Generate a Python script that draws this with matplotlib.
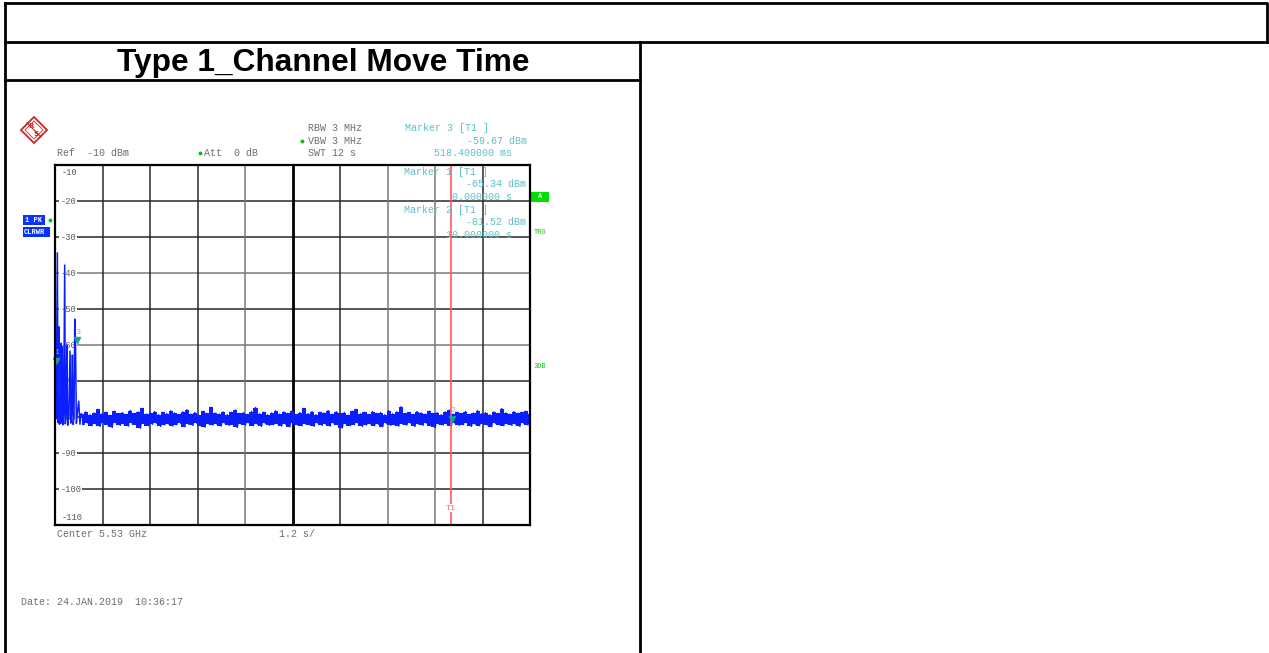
import numpy as np
import matplotlib
matplotlib.use("Agg")
from matplotlib import pyplot as plt
from matplotlib.patches import Rectangle, Polygon

# ---- data ----
title = "Type 1_Channel Move Time"
sweep_time = 12.0                       # s, 1.2 s/div
y_levels = [-10, -20, -30, -40, -50, -60, -70, -80, -90, -100, -110]

# start of the trace: the hopping bursts (time in s, level in dBm)
burst_t = [0.0, 0.03, 0.06, 0.075, 0.095, 0.11, 0.125, 0.14, 0.155, 0.17,
           0.185, 0.20, 0.22, 0.245, 0.26, 0.28, 0.30, 0.32, 0.35, 0.38,
           0.40, 0.42, 0.44, 0.46, 0.48, 0.50, 0.518, 0.54, 0.56, 0.60,
           0.63, 0.66]
burst_db = [-65.3, -80.5, -34.4, -81.5, -54.9, -82.0, -79.2, -81.8, -59.5, -81.6,
            -60.5, -82.2, -79.4, -37.8, -81.9, -79.1, -60.0, -82.3, -79.3, -61.7,
            -81.7, -79.0, -62.8, -82.1, -79.4, -52.8, -59.7, -81.8, -79.2, -75.6,
            -82.0, -79.1]

# noise floor after the bursts: upper / lower edge of the peak trace
noise_hi = [-79.2, -78.6, -79.4, -78.9, -77.9, -79.1, -78.7, -79.5, -78.4, -79.0,
            -78.8, -79.3, -78.2, -79.0, -78.6, -77.6, -79.2, -78.9, -78.5, -79.4,
            -78.7, -79.1, -78.3, -78.9, -79.3, -78.6, -78.0, -79.2, -78.8, -79.5,
            -78.4, -79.0, -77.3, -78.9, -79.2, -78.6, -79.4, -78.7, -78.1, -79.0,
            -78.8, -79.3, -78.5, -77.4, -79.1, -78.7, -79.4, -78.9, -78.3, -79.2,
            -78.6, -79.0, -78.4, -79.3, -78.8, -77.6, -79.1, -78.5, -79.4, -78.7,
            -78.9, -78.2, -79.2, -78.6, -79.0, -78.8, -79.5, -78.4, -77.9, -79.1,
            -78.7, -79.3, -78.5, -79.0, -78.8, -79.4, -78.3, -79.1, -78.6, -77.2,
            -79.0, -78.7, -79.3, -78.5, -78.9, -79.2, -78.4, -79.0, -78.8, -79.4,
            -78.6, -78.1, -79.2, -78.7, -79.0, -78.5, -79.3, -78.9, -78.2, -79.1,
            -78.8, -79.4, -78.6, -79.0, -77.7, -78.9, -79.2, -78.5, -79.0, -78.7,
            -78.4, -79.1]
noise_lo = [-82.1, -81.7, -82.4, -81.9, -82.6, -81.8, -82.2, -82.9, -81.6, -82.3,
            -82.0, -82.5, -81.8, -82.2, -83.1, -81.9, -82.4, -82.0, -81.7, -82.6,
            -82.2, -81.9, -82.5, -82.1, -81.8, -82.7, -82.0, -82.3, -81.7, -82.4,
            -82.8, -81.9, -82.2, -82.0, -82.5, -81.8, -82.3, -82.1, -82.9, -81.9,
            -82.2, -81.7, -82.4, -82.0, -82.6, -81.8, -82.3, -82.1, -81.9, -82.5,
            -82.0, -82.7, -81.8, -82.2, -82.4, -81.9, -82.1, -82.6, -81.7, -82.3,
            -82.0, -82.5, -81.8, -82.2, -83.0, -81.9, -82.4, -82.1, -81.8, -82.6,
            -82.2, -81.9, -82.4, -82.0, -82.7, -81.8, -82.3, -82.1, -82.5, -81.9,
            -82.2, -81.7, -82.6, -82.0, -82.3, -81.8, -82.4, -82.9, -81.9, -82.2,
            -82.0, -82.5, -81.8, -82.3, -82.1, -81.7, -82.6, -82.0, -82.4, -81.9,
            -82.2, -82.7, -81.8, -82.1, -82.4, -81.9, -82.3, -82.0, -82.6, -81.8,
            -82.2, -82.0]

# markers: (name, time s, level dBm)
marker_names = ["1", "2", "3"]
marker_t = [0.0, 10.0, 0.5184]
marker_db = [-65.34, -81.52, -59.67]

teal = "#5cc0c8"
grey_txt = "#6e6e6e"
trace_blue = "#0a1eff"
mono = "Liberation Mono"

fig = plt.figure(figsize=(12.69, 6.53), dpi=100)

# ---- background: the document table, pixel coordinates ----
bg = fig.add_axes([0, 0, 1, 1])
bg.set_xlim(0, 1269)
bg.set_ylim(653, 0)
bg.axis("off")
lw_tab = 2.0
bg.plot([5, 1267, 1267], [3, 3, 42], color="black", lw=lw_tab)
bg.plot([5, 5], [3, 653], color="black", lw=lw_tab)
bg.plot([5, 1267], [42, 42], color="black", lw=lw_tab)
bg.plot([640, 640], [42, 653], color="black", lw=lw_tab)
bg.plot([5, 640], [80, 80], color="black", lw=lw_tab)
bg.text(323, 63, title, ha="center", va="center", fontsize=22.8,
        fontweight="bold", family="Liberation Sans")

# R&S logo
red = "#c82828"
bg.add_patch(Polygon([(34, 117), (47, 130), (34, 143), (21, 130)], closed=True,
                     fill=False, edgecolor=red, lw=1.3))
bg.add_patch(Polygon([(34, 121), (43, 130), (34, 139), (25, 130)], closed=True,
                     fill=False, edgecolor=red, lw=0.6))
bg.plot([27, 41], [123, 137], color=red, lw=0.8)
bg.text(31.5, 126.5, "R", color=red, fontsize=5, ha="center", va="center",
        family="DejaVu Sans", fontweight="bold")
bg.text(36.5, 133.5, "S", color=red, fontsize=5, ha="center", va="center",
        family="DejaVu Sans", fontweight="bold")

hdr = dict(fontsize=7.2, family=mono, va="center")
bg.text(57, 153, "Ref  -10 dBm", color=grey_txt, **hdr)
bg.text(204, 153, "Att  0 dB", color=grey_txt, **hdr)
bg.text(308, 128, "RBW 3 MHz", color=grey_txt, **hdr)
bg.text(308, 141, "VBW 3 MHz", color=grey_txt, **hdr)
bg.text(308, 153, "SWT 12 s", color=grey_txt, **hdr)
bg.plot([200, 302, 50], [153, 141, 220], "o", color="#00c800", ms=1.8)

bg.text(405, 128, "Marker 3 [T1 ]", color=teal, **hdr)
bg.text(527, 141, "-59.67 dBm", color=teal, ha="right", **hdr)
bg.text(512, 153, "518.400000 ms", color=teal, ha="right", **hdr)

bg.text(57, 534, "Center 5.53 GHz", color=grey_txt, **hdr)
bg.text(279, 534, "1.2 s/", color=grey_txt, **hdr)
bg.text(21, 602, "Date: 24.JAN.2019  10:36:17", color=grey_txt, **hdr)

# side boxes
blue_box = "#0a32ff"
bg.add_patch(Rectangle((23, 215), 22, 10, color=blue_box, lw=0))
bg.add_patch(Rectangle((23, 227), 27, 10, color=blue_box, lw=0))
bg.text(25, 220, "1 PK", color="white", fontsize=5, family=mono,
        fontweight="bold", va="center")
bg.text(24, 232, "CLRWR", color="white", fontsize=5, family=mono,
        fontweight="bold", va="center")
bg.add_patch(Rectangle((531, 192), 18, 10, color="#00e000", lw=0))
bg.text(540, 197, "A", color="white", fontsize=5, family=mono,
        fontweight="bold", ha="center", va="center")
bg.text(534, 232, "TRG", color="#00d000", fontsize=5, family=mono, va="center")
bg.text(534, 367, "3DB", color="#00d000", fontsize=5, family=mono, va="center")

# ---- the analyzer screen ----
ax = fig.add_axes([55 / 1269, (653 - 525) / 653, 475 / 1269, 360 / 653])
ax.set_xlim(0, sweep_time)
ax.set_ylim(-110, -10)
ax.set_xticks([])
ax.set_yticks([])
for s in ax.spines.values():
    s.set_linewidth(1.6)
    s.set_color("black")
    s.set_zorder(8)

h_grey = [-40, -60]
for lvl in y_levels[1:-1]:
    ax.axhline(lvl, color="#7a7a7a" if lvl in h_grey else "#2a2a2a", lw=1.1, zorder=1)
for i in range(1, 10):
    x = sweep_time * i / 10
    if i == 5:
        ax.axvline(x, color="black", lw=2, zorder=1)
    else:
        ax.axvline(x, color="#7a7a7a" if i in (4, 7, 8) else "#2a2a2a", lw=1.1, zorder=1)

lab = dict(fontsize=6.3, family=mono, color="#5a5a5a", va="center", zorder=2)
for lvl in y_levels:
    if lvl == -10:
        ax.text(0.17, lvl - 2, str(lvl), **lab)
    elif lvl == -110:
        ax.text(0.17, lvl + 2.2, str(lvl), **lab)
    else:
        ax.text(0.13, lvl, str(lvl), bbox=dict(facecolor="white", edgecolor="none", pad=0.6), **lab)

# trace: bursts followed by the noise floor drawn as a dense peak trace
noise_t = np.linspace(0.68, sweep_time, len(noise_hi))
half = (noise_t[1] - noise_t[0]) / 2
zig_t = np.column_stack([noise_t, noise_t + half]).ravel()
zig_db = np.column_stack([noise_hi, noise_lo]).ravel()
trace_t = np.concatenate([burst_t, zig_t])
trace_db = np.concatenate([burst_db, zig_db])
keep = trace_t <= sweep_time
ax.fill_between(noise_t, noise_lo, noise_hi, step="mid", color=trace_blue,
                lw=0, zorder=3)
ax.plot(trace_t[keep], trace_db[keep], color=trace_blue, lw=1.1, zorder=3)

# marker T1 line
ax.axvline(marker_t[1], color="#ff5a5a", lw=1.2, zorder=4)
ax.text(marker_t[1], -105.3, "T1", color="#ff5a5a", fontsize=6, family=mono,
        ha="center", va="center", zorder=5,
        bbox=dict(facecolor="white", edgecolor="none", pad=0.5))

# marker triangles
for name, t, db in zip(marker_names, marker_t, marker_db):
    ax.plot(t + 0.03, db + 1.0, marker="v", color="#1fa08c", ms=4, zorder=6,
            clip_on=False)
    ax.text(t + 0.06, db + 3.2, name, color=teal if name != "2" else "#b0b0b0",
            fontsize=6, family=mono, ha="center", va="center", zorder=6)

# marker readouts inside the screen
rd = dict(fontsize=7.2, family=mono, color=teal, va="center", zorder=7)
ax.text(8.82, -11.9, "Marker 1 [T1 ]", **rd)
ax.text(11.9, -15.3, "-65.34 dBm", ha="right", **rd)
ax.text(11.55, -18.9, "0.000000 s", ha="right", **rd)
ax.text(8.82, -22.5, "Marker 2 [T1 ]", **rd)
ax.text(11.9, -25.8, "-81.52 dBm", ha="right", **rd)
ax.text(11.55, -29.4, "10.000000 s", ha="right", **rd)

fig.savefig("out.png", dpi=100)
